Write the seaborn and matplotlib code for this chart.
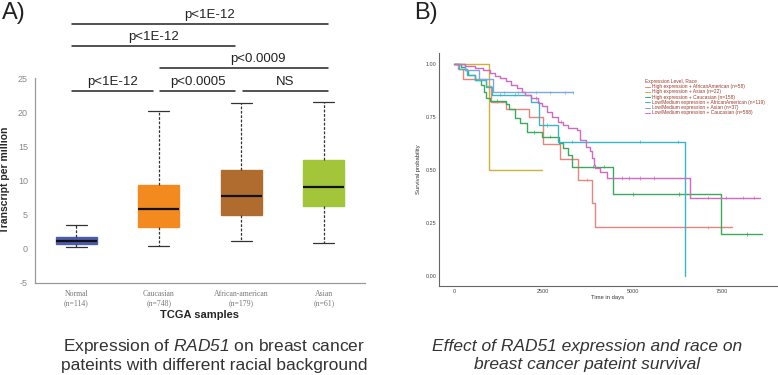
import numpy as np
import pandas as pd
import seaborn as sns
import matplotlib.pyplot as plt
from matplotlib.lines import Line2D

# ---------------- panel A: RAD51 expression (box summaries)
groups = ["Normal", "Caucasian", "African-american", "Asian"]
group_n = [114, 748, 179, 61]
whisker_lo = [0.3, 0.4, 1.1, 0.8]
q1 = [0.7, 3.2, 5.0, 6.2]
median = [1.1, 5.9, 7.8, 9.1]
q3 = [1.7, 9.4, 11.5, 13.0]
whisker_hi = [3.5, 20.1, 21.3, 21.5]
box_colors = ["#4d5caa", "#f28a1f", "#b06c2f", "#a3c53a"]

pairs = [(0, 1), (1, 2), (2, 3), (1, 3), (0, 2), (0, 3)]
pvals = ["p<1E-12", "p<0.0005", "NS", "p<0.0009", "p<1E-12", "p<1E-12"]

# ---------------- panel B: Kaplan-Meier curves (steps)
km_labels = [
    "High expression + AfricanAmerican (n=58)",
    "High expression + Asian (n=22)",
    "High expression + Caucasian (n=158)",
    "Low/Medium expression + AfricanAmerican (n=119)",
    "Low/Medium expression + Asian (n=37)",
    "Low/Medium expression + Caucasian (n=588)",
]
km_colors = ["#e9847c", "#cdb13c", "#3aa95a", "#36b7c8", "#7ea6e4", "#d06ac0"]

ha_t = [100, 250, 900, 1040, 1460, 2100, 2500, 2970, 3480, 3870, 3950]
ha_s = [0.975, 0.93, 0.895, 0.82, 0.79, 0.75, 0.625, 0.55, 0.455, 0.345, 0.23]
ha_end = 7790
ha_cens = [3720, 7110]

has_t = [980]
has_s = [0.5]
has_end = 2460
has_cens = []

hc_t = [200, 300, 400, 600, 750, 850, 900, 1000, 1450, 1550, 1700, 1850,
        2050, 2450, 2950, 3050, 3200, 3300, 4460, 7470]
hc_s = [0.985, 0.97, 0.95, 0.925, 0.9, 0.87, 0.84, 0.825, 0.81, 0.79, 0.745,
        0.72, 0.68, 0.657, 0.627, 0.603, 0.571, 0.516, 0.387, 0.198]
hc_end = 8620
hc_cens = [1200, 2250, 2700, 3900, 4200, 5000, 6300, 8200]

la_t = [150, 350, 600, 900, 1050, 2150, 2380, 2910, 6470]
la_s = [0.975, 0.95, 0.925, 0.89, 0.855, 0.82, 0.712, 0.634, 0.0]
la_end = 6470
la_cens = [1300, 1700, 2600, 3300, 5200, 6270]

las_t = [300, 700, 1090]
las_s = [0.97, 0.93, 0.866]
las_end = 3330
las_cens = [1400, 1800, 2300, 2700, 3100, 3330]

lc_t = [300, 600, 800, 1000, 1150, 1300, 1450, 1600, 1750, 1900, 2000, 2150,
        2350, 2450, 2600, 2750, 2900, 3050, 3200, 3450, 3530, 3700, 3800,
        3870, 3920, 3950, 4100, 4270, 6610]
lc_s = [0.99, 0.98, 0.97, 0.956, 0.945, 0.932, 0.92, 0.9, 0.885, 0.87, 0.854,
        0.84, 0.816, 0.8, 0.775, 0.75, 0.728, 0.712, 0.697, 0.689, 0.642, 0.61,
        0.59, 0.556, 0.523, 0.51, 0.492, 0.462, 0.37]
lc_end = 8570
lc_cens = [2300, 3000, 4700, 4900, 5200, 5600, 7100, 7600, 8100, 8400]

km_curves = [
    (ha_t, ha_s, ha_end, ha_cens),
    (has_t, has_s, has_end, has_cens),
    (hc_t, hc_s, hc_end, hc_cens),
    (la_t, la_s, la_end, la_cens),
    (las_t, las_s, las_end, las_cens),
    (lc_t, lc_s, lc_end, lc_cens),
]

sns.set_style("white")
plt.rcParams["font.family"] = ["Liberation Sans", "DejaVu Sans"]
plt.rcParams["axes.unicode_minus"] = False
plt.rcParams["mathtext.fontset"] = "custom"
plt.rcParams["mathtext.rm"] = "Liberation Sans:italic"
plt.rcParams["mathtext.it"] = "Liberation Sans:italic"

W, H = 778, 375
fig = plt.figure(figsize=(W / 100, H / 100), dpi=100)
fig.patch.set_facecolor("white")

# ================= panel A
axA = fig.add_axes([35 / W, 92 / H, 330 / W, 266.5 / H])
rows = []
for g, lo, a, m, b, hi in zip(groups, whisker_lo, q1, median, q3, whisker_hi):
    for v in (lo, a, m, b, hi):
        rows.append({"group": g, "tpm": v})
box_df = pd.DataFrame(rows)

sns.boxplot(data=box_df, x="group", y="tpm", hue="group", order=groups,
            hue_order=groups, palette=box_colors, saturation=1, width=0.5,
            whis=(0, 100), showfliers=False, linewidth=1, linecolor="#333333",
            legend=False, ax=axA,
            whiskerprops=dict(linestyle=(0, (2.2, 1.3)), color="#333333", linewidth=0.9),
            capprops=dict(color="#333333", linewidth=0.9),
            medianprops=dict(color="#111111", linewidth=1.6))
for patch, c in zip(axA.patches, box_colors):
    patch.set_edgecolor(c)

axA.set_xlim(-0.5, 3.5)
axA.set_ylim(-5, 34)
axA.set_yticks(range(-5, 30, 5))
axA.set_xticks(range(len(groups)))
axA.set_xticklabels([f"{g}\n(n={n})" for g, n in zip(groups, group_n)],
                    family="Liberation Serif", fontsize=5.6, color="#777777",
                    linespacing=1.15)
axA.set_xticks(np.arange(-0.5, 4, 1), minor=True)
axA.tick_params(axis="x", which="major", length=0, pad=5)
axA.tick_params(axis="x", which="minor", length=4, color="#999999", width=0.8)
axA.tick_params(axis="y", length=3, color="#999999", width=0.8, labelsize=6.5,
                labelcolor="#888888", pad=2)
for side in ["top", "right"]:
    axA.spines[side].set_visible(False)
for side in ["left", "bottom"]:
    axA.spines[side].set_color("#999999")
    axA.spines[side].set_linewidth(0.9)
axA.spines["left"].set_bounds(-5, 25)
axA.set_ylabel("Transcript per million", fontsize=7.5, fontweight="bold")
axA.yaxis.set_label_coords(-0.076, 0.386)
axA.set_xlabel("TCGA samples", fontsize=8, fontweight="bold")
axA.xaxis.set_label_coords(0.5, -0.101)

levels = [23.1, 23.1, 23.1, 26.5, 29.7, 32.9]
text_shift = [0.0, 0.0, 0.0, 0.17, 0.0, 0.12]
for (i, j), label, yl, dx in zip(pairs, pvals, levels, text_shift):
    x1 = i - 0.05 if i == 0 else i + 0.02
    x2 = j + 0.05 if j == 3 else j - 0.07
    axA.plot([x1, x2], [yl, yl], color="#222222", lw=1.1, clip_on=False)
    axA.text((x1 + x2) / 2 + dx, yl + 0.45, label, ha="center", va="bottom",
             fontsize=9.5, color="#222222")

# ================= panel B
axB = fig.add_axes([439 / W, 89 / H, 338 / W, 233 / H])
line_rows, cens_rows = [], []
for lab, (t, s, end, cens) in zip(km_labels, km_curves):
    times = [0] + list(t)
    surv = [1.0] + list(s)
    if end > times[-1]:
        times.append(end)
        surv.append(surv[-1])
    for a, b in zip(times, surv):
        line_rows.append({"group": lab, "time": a, "surv": b})
    for c in cens:
        k = np.searchsorted(times, c, side="right") - 1
        cens_rows.append({"group": lab, "time": c, "surv": surv[k]})
km_df = pd.DataFrame(line_rows)
cens_df = pd.DataFrame(cens_rows)

sns.lineplot(data=km_df, x="time", y="surv", hue="group", hue_order=km_labels,
             palette=km_colors, estimator=None, sort=False,
             drawstyle="steps-post", linewidth=1.0, legend=False, ax=axB)
sns.scatterplot(data=cens_df, x="time", y="surv", hue="group",
                hue_order=km_labels, palette=km_colors, marker="|", s=6,
                linewidth=0.5, legend=False, ax=axB)

axB.set_xlim(-420, 9040)
axB.set_ylim(-0.047, 1.052)
axB.set_xticks([0, 2500, 5000, 7500])
axB.set_yticks([0, 0.25, 0.5, 0.75, 1.0])
axB.set_yticklabels([f"{v:.2f}" for v in [0, 0.25, 0.5, 0.75, 1.0]])
axB.tick_params(length=0, labelsize=3.9, labelcolor="#444444", pad=2)
for side in ["top", "right"]:
    axB.spines[side].set_visible(False)
for side in ["left", "bottom"]:
    axB.spines[side].set_color("#666666")
    axB.spines[side].set_linewidth(0.8)
axB.set_xlabel("Time in days", fontsize=4.2, color="#333333", labelpad=1)
axB.set_ylabel("Survival probability", fontsize=4.2, color="#333333", labelpad=3)

handles = [Line2D([0], [0], color=c, lw=0.7) for c in km_colors]
leg = fig.legend(handles, km_labels, title="Expression Level, Race",
                 loc="upper left", bbox_to_anchor=(645 / W, 1 - 79 / H),
                 frameon=False, fontsize=3.5, title_fontsize=3.5,
                 handlelength=1.0, handletextpad=0.4, labelspacing=0.05,
                 borderpad=0, borderaxespad=0)
leg._legend_box.align = "left"
for txt in leg.get_texts():
    txt.set_color("#9c3b2e")
leg.get_title().set_color("#9c3b2e")

# ================= panel letters and captions
fig.text(2 / W, 1 - 2 / H, "A)", fontsize=17, ha="left", va="top", color="#222222")
fig.text(414 / W, 1 - 2 / H, "B)", fontsize=17, ha="left", va="top", color="#222222")
fig.text(214 / W, 1 - 351 / H, r"Expression of $\mathrm{RAD51}$ on breast cancer",
         ha="center", va="baseline", fontsize=12.5, color="#333333")
fig.text(214 / W, 1 - 370 / H, "pateints with different racial background",
         ha="center", va="baseline", fontsize=12.5, color="#333333")
fig.text(587 / W, 1 - 351 / H, "Effect of RAD51 expression and race on",
         ha="center", va="baseline", fontsize=12.5, style="italic", color="#333333")
fig.text(587 / W, 1 - 369 / H, "breast cancer pateint survival",
         ha="center", va="baseline", fontsize=12.5, style="italic", color="#333333")

fig.savefig("out.png", dpi=100, facecolor="white")
